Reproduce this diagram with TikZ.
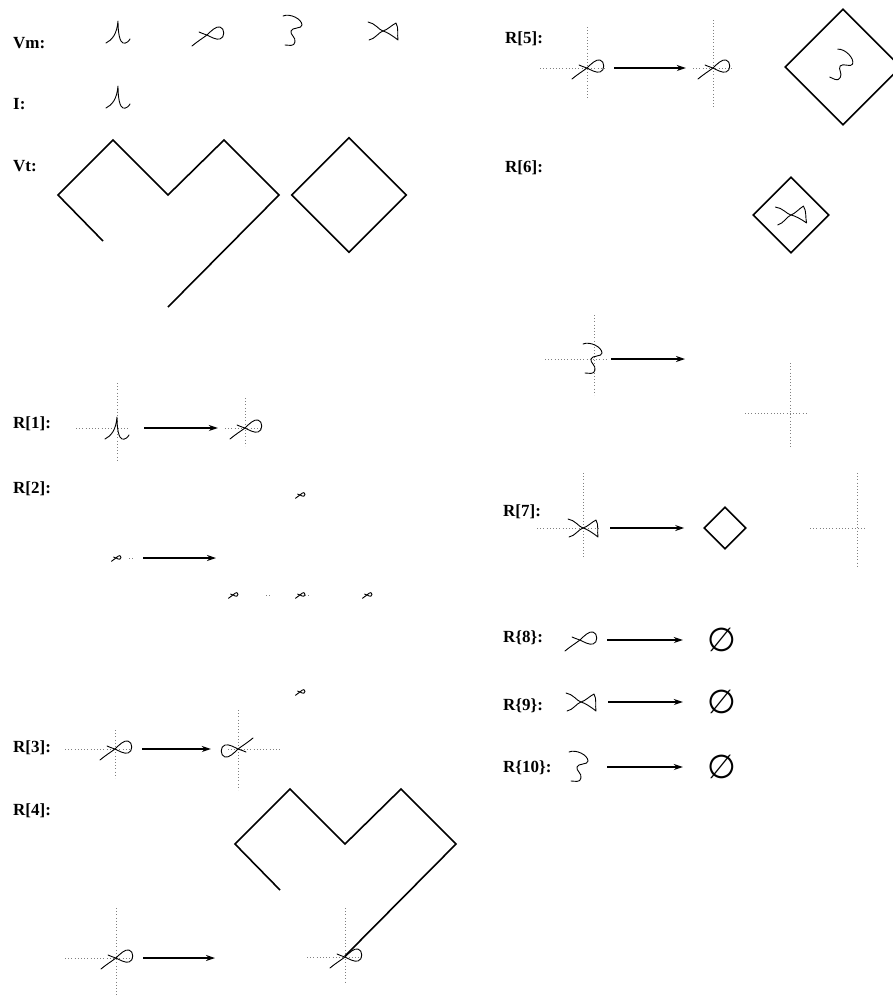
\documentclass[tikz,border=0pt]{standalone}
\usepackage{fontspec}
\setmainfont{Liberation Serif}
\newfontfamily\symfont{DejaVu Sans}
\usetikzlibrary{arrows.meta,shapes.geometric}

\tikzset{
  lbl/.style={anchor=west, inner sep=0pt, font=\bfseries\fontsize{17}{20}\selectfont},
  glyph/.style={minimum width=#1, minimum height=24pt, inner sep=0pt},
  glyph/.default=54pt,
  ink/.style={line width=0.9pt, line cap=round, line join=round},
  arr/.style={-{Stealth[length=9pt,width=6pt]}, line width=1.2pt},
  dots/.style={gray, line width=0.5pt, dash pattern=on 0.8pt off 2.4pt},
  frame/.style={line width=1.6pt},
  box/.style={draw, diamond, frame, inner sep=0pt, minimum size=#1},
  nul/.style={inner sep=0pt, minimum width=78pt, font=\symfont\fontsize{33}{33}\selectfont},
  pics/cusp/.style={code={\draw[ink] (-12,11) .. controls (-6,8) and (-1,2) .. (0,-11) .. controls (0,2) and (2,10) .. (5,11) .. controls (8,12) and (11,9) .. (12,7);}},
  pics/curl/.style={code={\draw[ink] (-15,11) .. controls (-9,6) and (-4,3) .. (0,0) .. controls (4,-4) and (9,-9) .. (13,-8) .. controls (18,-7) and (18,3) .. (13,4) .. controls (9,5) and (4,2) .. (0,0) .. controls (-3,-1) and (-6,-2) .. (-8,-3);}},
  pics/hook/.style={code={\draw[ink] (-11,-15) .. controls (-4,-18) and (8,-12) .. (8,-6) .. controls (8,-2) and (-2,-4) .. (-3,0) .. controls (-4,4) and (2,6) .. (1,11) .. controls (0,16) and (-5,14) .. (-9,14);}},
  pics/bow/.style={code={\draw[ink] (-15,-9) .. controls (-8,-8) and (-4,-1) .. (0,0) .. controls (4,1) and (10,5) .. (15,9) .. controls (14,4) and (16,-3) .. (13,-8) .. controls (9,-6) and (4,-1) .. (0,0) .. controls (-4,1) and (-8,8) .. (-14,9);}},
  pics/zigzag/.style={code={\draw[frame] (-65,46) -- (-110,0) -- (-55,-55) -- (0,0) -- (56,-55) -- (111,0) -- (0,112);}},
  pics/xhair/.style n args={4}{code={\draw[dots] (-#1,0) -- (#2,0); \draw[dots] (0,-#3) -- (0,#4);}}
}

\begin{document}
\begin{tikzpicture}[x=1pt, y=-1pt]
\useasboundingbox (0,0) rectangle (893,997);
\clip (0,0) rectangle (893,997);

\node[lbl] (vm) at (13,43) {Vm:};
\node[lbl] (i) at (13,104) {I:};
\node[lbl] (vt) at (13,166) {Vt:};
\pic at (118,32) {cusp};
\pic at (207,35) {curl};
\pic at (294,31) {hook};
\pic at (383,31) {bow};
\pic at (118,97) {cusp};
\pic at (168,195) {zigzag};
\node[box=115pt] (vtdia) at (349,195) {};

\node[lbl] (r1) at (13,424) {R[1]:};
\node[glyph] (r1a) at (117,428) {};
\node[glyph] (r1b) at (245,428) {};
\pic at (r1a) {xhair={41}{13}{45}{34}};
\pic at (r1a) {cusp};
\pic at (r1b) {xhair={20}{18}{30}{18}};
\pic at (r1b) {curl};
\draw[arr] (r1a) -- (r1b);

\node[lbl] (r2) at (13,489) {R[2]:};
\node[glyph] (r2a) at (116,558) {};
\coordinate (r2end) at (216,558);
\pic[scale=0.3] at (r2a) {curl};
\foreach \x/\y in {300/495, 233/595, 300/595, 367/595, 300/692}
  \pic[scale=0.3] at (\x,\y) {curl};
\draw[dots] (129,558) -- (134,558);
\draw[dots] (266,595) -- (271,595);
\draw[dots] (305,595) -- (310,595);
\draw[arr] (r2a) -- (r2end);

\node[lbl] (r3) at (13,748) {R[3]:};
\node[glyph] (r3a) at (115,749) {};
\node[glyph] (r3b) at (238,749) {};
\pic at (r3a) {xhair={50}{17}{19}{29}};
\pic at (r3a) {curl};
\pic at (r3b) {xhair={10}{42}{39}{41}};
\pic[rotate=180] at (r3b) {curl};
\draw[arr] (r3a) -- (r3b);

\node[lbl] (r4) at (13,811) {R[4]:};
\node[glyph] (r4a) at (116,958) {};
\node[glyph] (r4b) at (345,957) {};
\coordinate (r4end) at (215,958);
\pic at (r4a) {xhair={51}{17}{50}{39}};
\pic at (r4a) {curl};
\pic at (345,844) {zigzag};
\pic at (r4b) {xhair={38}{18}{49}{25}};
\pic at (r4b) {curl};
\draw[arr] (r4a) -- (r4end);

\node[lbl] (r5) at (505,39) {R[5]:};
\node[glyph] (r5a) at (587,68) {};
\node[glyph] (r5b) at (713,68) {};
\pic at (r5a) {xhair={47}{18}{41}{32}};
\pic at (r5a) {curl};
\pic at (r5b) {xhair={20}{19}{48}{39}};
\pic at (r5b) {curl};
\draw[arr] (r5a) -- (r5b);
\node[box=116pt] (r5dia) at (843,67) {};
\pic[rotate=-20] at (r5dia) {hook};

\node[lbl] (r6) at (505,168) {R[6]:};
\node[box=76pt] (r6dia) at (791,215) {};
\pic[rotate=4] at (r6dia) {bow};
\node[glyph=34pt] (r6a) at (594,359) {};
\coordinate (r6end) at (685,359);
\pic at (r6a) {xhair={49}{13}{44}{36}};
\pic at (r6a) {hook};
\pic at (790,413) {xhair={45}{18}{50}{35}};
\draw[arr] (r6a) -- (r6end);

\node[lbl] (r7) at (503,512) {R[7]:};
\node[glyph] (r7a) at (583,528) {};
\node[box=42pt] (r7b) at (725,528) {};
\pic at (r7a) {xhair={46}{15}{55}{30}};
\pic at (r7a) {bow};
\pic at (857,528) {xhair={47}{10}{55}{39}};
\draw[arr, shorten >=19pt] (r7a) -- (r7b);

\node[lbl] (r8) at (503,638) {R\{8\}:};
\node[glyph] (r8a) at (580,640) {};
\node[nul] (r8b) at (722,640) {∅};
\pic at (r8a) {curl};
\draw[arr] (r8a) -- (r8b);

\node[lbl] (r9) at (503,706) {R\{9\}:};
\node[glyph] (r9a) at (581,702) {};
\node[nul] (r9b) at (722,702) {∅};
\pic at (r9a) {bow};
\draw[arr] (r9a) -- (r9b);

\node[lbl] (r10) at (503,768) {R\{10\}:};
\node[glyph] (r10a) at (580,767) {};
\node[nul] (r10b) at (722,767) {∅};
\pic at (r10a) {hook};
\draw[arr] (r10a) -- (r10b);
\end{tikzpicture}
\end{document}
